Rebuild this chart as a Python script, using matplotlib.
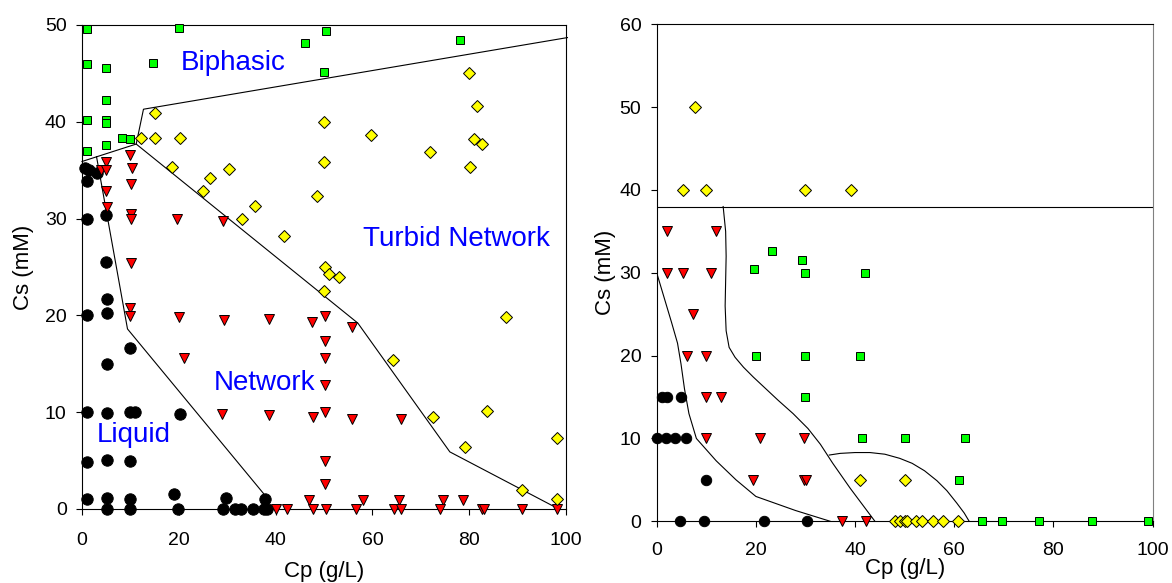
import numpy as np
import matplotlib
matplotlib.use('Agg')
import matplotlib.pyplot as plt

plt.rcParams['font.family'] = ['Liberation Sans', 'DejaVu Sans']

## Left panel data ##################################################
# Biphasic (green squares)
bipX_L = [1, 20, 1, 5, 14.7, 5, 1, 5, 5, 8.2, 10, 1, 5, 46, 50.5, 50, 78]
bipY_L = [49.6, 49.7, 46, 45.6, 46.1, 42.3, 40.2, 40.2, 39.9, 38.3, 38.2, 37.0, 37.6, 48.1, 49.4, 45.1, 48.4]
# Turbid network (yellow diamonds)
turX_L = [12.1, 15.1, 15.1, 20.2, 18.6, 30.3, 26.5, 24.9, 35.7, 33.1, 41.8, 79.9, 81.6, 50.1, 59.7, 80.9,
          82.7, 71.9, 80.2, 50.1, 48.6, 50.2, 51.0, 53.2, 49.9, 87.7, 64.3, 72.6, 83.6, 79.1, 98.1, 90.9, 98.2]
turY_L = [38.3, 40.9, 38.3, 38.3, 35.3, 35.1, 34.2, 32.8, 31.3, 30.0, 28.2, 45.0, 41.6, 40.0, 38.6, 38.2,
          37.7, 36.9, 35.3, 35.8, 32.3, 25.0, 24.3, 24.0, 22.5, 19.8, 15.4, 9.5, 10.1, 6.4, 7.3, 2.0, 1.0]
# Network (red triangles)
netX_L = [9.9, 5, 3.9, 5, 10.3, 10.1, 5, 5.1, 10.1, 10.1, 19.6, 29.2, 10.1, 10, 10, 20, 29.3, 38.6, 21.1,
          29, 38.6, 40, 42.4, 47.5, 50.2, 55.7, 50.2, 50.2, 50.2, 47.8, 50.2, 55.7, 66, 50.2, 50.2, 47, 58,
          65.4, 74.5, 78.8, 47.7, 50.4, 56.6, 64.5, 66, 74, 82.6, 83, 90.9, 98.2]
netY_L = [36.6, 35.8, 35, 35, 35.2, 33.6, 32.9, 31.2, 30.5, 30, 30, 29.8, 25.4, 20.8, 19.9, 19.8, 19.5, 19.6, 15.6,
          9.8, 9.7, 0, 0, 19.3, 19.9, 18.8, 17.4, 15.6, 12.8, 9.5, 10, 9.3, 9.3, 5, 2.6, 0.9, 0.9,
          0.9, 0.9, 0.9, 0, 0, 0, 0, 0, 0, 0, 0, 0, 0]
# Liquid (black circles)
liqX_L = [0.6, 1.5, 3, 1.1, 1.1, 5, 5, 5.1, 1.1, 5.1, 9.9, 5.1, 1.1, 5.1, 9.9, 11, 20.2, 1.1, 5.1, 9.9,
          1.1, 5.1, 9.9, 19.1, 29.8, 37.8, 5.1, 9.9, 19.8, 29.1, 31.6, 32.8, 35.3, 37.7, 38.2]
liqY_L = [35.2, 35, 34.7, 33.9, 30, 30.4, 25.5, 21.7, 20, 20.2, 16.6, 15, 10, 9.9, 10, 10, 9.8, 4.9, 5.1, 5,
          1, 1.1, 1, 1.5, 1.1, 1, 0, 0, 0, 0, 0, 0, 0, 0, 0]
# phase boundaries
bnd1X_L = [0, 11.2, 12.7, 100.3]
bnd1Y_L = [35.9, 37.7, 41.3, 48.7]
bnd2X_L = [11.2, 57, 76, 98.5]
bnd2Y_L = [37.7, 19.2, 5.9, 0]
bnd3X_L = [3.0, 9.4, 37.5, 38.3]
bnd3Y_L = [36.4, 18.6, 1.6, 0.4]

## Right panel data #################################################
bipX_R = [23.3, 29.3, 19.6, 30, 42, 20, 30, 41, 30, 41.4, 50, 62.2, 61, 65.6, 69.6, 77.1, 87.7, 99.1]
bipY_R = [32.6, 31.6, 30.5, 30, 30, 20, 20, 20, 15, 10, 10, 10, 5, 0, 0, 0, 0, 0]
turX_R = [7.8, 5.3, 10, 30, 39.1, 41, 50, 48, 49, 50, 50.5, 52.3, 53.4, 55.8, 57.8, 60.7]
turY_R = [50, 40, 40, 40, 40, 5, 5, 0, 0, 0, 0, 0, 0, 0, 0, 0]
netX_R = [2, 12, 2, 5.3, 10.9, 7.3, 6.1, 10, 10, 12.9, 10, 20.9, 29.7, 19.5, 29.7, 30.2, 37.4, 42.1]
netY_R = [35, 35, 30, 30, 30, 25, 20, 20, 15, 15, 10, 10, 10, 5, 5, 5, 0, 0]
liqX_R = [1, 2, 4.9, 0, 1.9, 3.7, 6, 10, 4.7, 9.6, 21.7, 30.3]
liqY_R = [15, 15, 15, 10, 10, 10, 10, 5, 0, 0, 0, 0]
hlineY_R = 38.0
bndAX_R = [0, 1.5, 3.0, 4.2, 4.9, 5.6, 6.5, 8, 12, 16, 20, 28, 35]
bndAY_R = [30, 27, 24, 21.5, 19, 16, 13, 10, 7.3, 5, 3, 1.3, 0]
bndBX_R = [13.4, 13.9, 14.0, 13.9, 13.8, 14.0, 14.6, 15.8, 17.5, 19.5, 22, 24.5, 27.5, 30.5, 33, 35.5, 39, 44]
bndBY_R = [38, 35, 32, 29, 26, 23, 21, 19.8, 18.6, 17.4, 16.0, 14.6, 13, 11.2, 9.3, 7.0, 4.0, 0]
bndCX_R = [34.8, 37, 40, 43, 46, 49, 51.5, 54, 56.5, 58.5, 60.5, 62, 63]
bndCY_R = [8.0, 8.2, 8.3, 8.3, 8.1, 7.6, 7.0, 6.1, 4.9, 3.7, 2.2, 1.0, 0]

## Plot ##############################################################
fig = plt.figure(figsize=(11.72, 5.83), dpi=100)
axL = fig.add_axes([0.06997, 0.12693, 0.41297, 0.83019])
axR = fig.add_axes([0.56032, 0.10583, 0.42321, 0.85249])

mk = dict(linestyle='none', markeredgecolor='black', markeredgewidth=0.7, clip_on=False, zorder=3)

def draw_points(ax, bx, by, tx, ty, nx, ny, lx, ly, circ):
    ax.plot(lx, ly, 'o', color='black', markersize=circ, **mk)
    ax.plot(nx, ny, 'v', color='#ff0000', markersize=7.4, **mk)
    ax.plot(tx, ty, 'D', color='#ffff00', markersize=6.0, **mk)
    ax.plot(bx, by, 's', color='#00ff00', markersize=6.2, **mk)

# left
axL.plot(bnd1X_L, bnd1Y_L, '-', color='black', lw=0.8, clip_on=False)
axL.plot(bnd2X_L, bnd2Y_L, '-', color='black', lw=0.8)
axL.plot(bnd3X_L, bnd3Y_L, '-', color='black', lw=0.8)
draw_points(axL, bipX_L, bipY_L, turX_L, turY_L, netX_L, netY_L, liqX_L, liqY_L, 8.2)
axL.text(31.2, 46.1, 'Biphasic', color='#0000ff', fontsize=20, ha='center', va='center')
axL.text(77.3, 27.9, 'Turbid Network', color='#0000ff', fontsize=20, ha='center', va='center')
axL.text(37.7, 13.05, 'Network', color='#0000ff', fontsize=20, ha='center', va='center')
axL.text(10.7, 7.6, 'Liquid', color='#0000ff', fontsize=20, ha='center', va='center')
axL.set_xlim(0, 100)
axL.set_ylim(0, 50)
axL.set_xticks(np.arange(0, 101, 20))
axL.set_yticks(np.arange(0, 51, 10))

# right
axR.axhline(hlineY_R, color='black', lw=0.8)
axR.plot(bndAX_R, bndAY_R, '-', color='black', lw=0.8)
axR.plot(bndBX_R, bndBY_R, '-', color='black', lw=0.8)
axR.plot(bndCX_R, bndCY_R, '-', color='black', lw=0.8)
draw_points(axR, bipX_R, bipY_R, turX_R, turY_R, netX_R, netY_R, liqX_R, liqY_R, 7.5)
axR.set_xlim(0, 100)
axR.set_ylim(0, 60)
axR.set_xticks(np.arange(0, 101, 20))
axR.set_yticks(np.arange(0, 61, 10))
axR.spines['right'].set_color('#808080')

for ax in (axL, axR):
    for s in ax.spines.values():
        s.set_linewidth(0.8)
    ax.tick_params(direction='out', length=4, width=0.8, labelsize=14)
    ax.tick_params(axis='y', pad=7)
axL.tick_params(axis='x', pad=12.5)
axR.tick_params(axis='x', pad=11)

axL.set_xlabel('Cp (g/L)', fontsize=16, labelpad=9)
axL.set_ylabel('Cs (mM)', fontsize=16, labelpad=8)
axR.set_xlabel('Cp (g/L)', fontsize=16, labelpad=-1)
axR.set_ylabel('Cs (mM)', fontsize=16, labelpad=2.5)

plt.savefig('out.png', dpi=100)
